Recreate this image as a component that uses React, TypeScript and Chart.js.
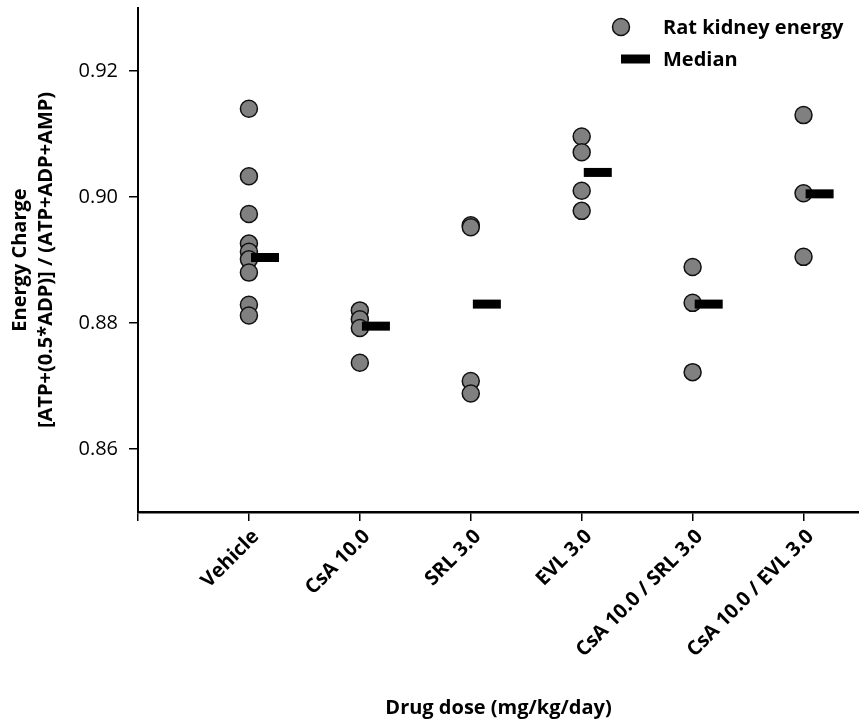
import React, { useEffect, useRef } from 'react';
import { Chart, registerables } from 'chart.js';

Chart.register(...registerables);

const CATEGORIES = [
  'Vehicle',
  'CsA 10.0',
  'SRL 3.0',
  'EVL 3.0',
  'CsA 10.0 / SRL 3.0',
  'CsA 10.0 / EVL 3.0',
];

const VEHICLE = [0.914, 0.9033, 0.8973, 0.8926, 0.8913, 0.8901, 0.888, 0.8829, 0.8812];
const CSA_10 = [0.882, 0.8806, 0.8792, 0.8737];
const SRL_3 = [0.8955, 0.8952, 0.8708, 0.8688];
const EVL_3 = [0.9096, 0.9071, 0.901, 0.8978];
const CSA_SRL = [0.8889, 0.8832, 0.8722];
const CSA_EVL = [0.913, 0.9006, 0.8905];
const GROUPS = [VEHICLE, CSA_10, SRL_3, EVL_3, CSA_SRL, CSA_EVL];

const MEDIANS = [0.8904, 0.8795, 0.883, 0.9039, 0.883, 0.9005];

const Y_TICKS = [0.86, 0.88, 0.9, 0.92];
const X_TICKS = [0, 1, 2, 3, 4, 5, 6];

const MEDIAN_OFFSET = 0.145;
const FONT = "'Open Sans', sans-serif";
const TEXT = '#000';

const legendPlugin = {
  id: 'customLegend',
  afterDraw(chart: any) {
    const { ctx, chartArea } = chart;
    const pts = chart.data.datasets[0];
    const med = chart.data.datasets[1];
    const r = chartArea.right;
    const t = chartArea.top;
    ctx.save();
    ctx.beginPath();
    ctx.arc(r - 238, t + 19, 8.5, 0, Math.PI * 2);
    ctx.fillStyle = pts.backgroundColor;
    ctx.fill();
    ctx.lineWidth = pts.borderWidth;
    ctx.strokeStyle = pts.borderColor;
    ctx.stroke();
    ctx.beginPath();
    ctx.moveTo(r - 238, t + 51);
    ctx.lineTo(r - 209, t + 51);
    ctx.lineWidth = med.borderWidth;
    ctx.strokeStyle = med.borderColor;
    ctx.stroke();
    ctx.fillStyle = TEXT;
    ctx.font = `bold 20px ${FONT}`;
    ctx.textBaseline = 'middle';
    ctx.textAlign = 'left';
    ctx.fillText(pts.label, r - 196, t + 20);
    ctx.fillText(med.label, r - 196, t + 52);
    ctx.restore();
  },
};

export default function App() {
  const ref = useRef<HTMLCanvasElement | null>(null);

  useEffect(() => {
    if (!ref.current) return;
    const pointData: { x: number; y: number }[] = [];
    GROUPS.forEach((g, i) => g.forEach((v) => pointData.push({ x: i + 1, y: v })));
    const medianData = MEDIANS.map((v, i) => ({ x: i + 1 + MEDIAN_OFFSET, y: v }));

    const chart = new Chart(ref.current, {
      type: 'scatter',
      data: {
        datasets: [
          {
            label: 'Rat kidney energy',
            data: pointData,
            backgroundColor: '#808080',
            borderColor: '#111',
            borderWidth: 1.5,
            pointRadius: 8.5,
            pointHoverRadius: 8.5,
            order: 1,
          },
          {
            label: 'Median',
            data: medianData,
            pointStyle: 'line',
            borderColor: '#000',
            backgroundColor: '#000',
            borderWidth: 9,
            pointRadius: 14,
            pointHoverRadius: 14,
            order: 0,
          },
        ],
      },
      options: {
        animation: false,
        responsive: true,
        maintainAspectRatio: false,
        layout: { autoPadding: false, padding: { top: 8, left: 0, right: 0, bottom: 0 } },
        plugins: {
          legend: { display: false },
          tooltip: { enabled: false },
        },
        scales: {
          x: {
            type: 'linear',
            min: 0,
            max: 6.5,
            afterBuildTicks: (scale: any) => {
              scale.ticks = X_TICKS.map((v) => ({ value: v }));
            },
            afterFit: (scale: any) => {
              scale.height = 210;
              scale.paddingLeft = 0;
              scale.paddingRight = 0;
            },
            ticks: {
              autoSkip: false,
              maxRotation: 45,
              minRotation: 45,
              padding: 4,
              labelOffset: 7,
              color: TEXT,
              font: { family: FONT, size: 20, weight: 'bold' },
              callback: (v: any) => (v >= 1 ? CATEGORIES[v - 1] : ''),
            },
            grid: {
              display: true,
              drawOnChartArea: false,
              drawTicks: true,
              tickLength: 9,
              color: '#000',
              lineWidth: 1.5,
            },
            border: { display: true, color: '#000', width: 2.5 },
            title: {
              display: true,
              text: 'Drug dose (mg/kg/day)',
              color: TEXT,
              font: { family: FONT, size: 20, weight: 'bold' },
              padding: { top: 0, bottom: 2 },
            },
          },
          y: {
            type: 'linear',
            min: 0.85,
            max: 0.93,
            afterBuildTicks: (scale: any) => {
              scale.ticks = Y_TICKS.map((v) => ({ value: v }));
            },
            afterFit: (scale: any) => {
              scale.width = 138;
              scale.paddingTop = 0;
              scale.paddingBottom = 0;
            },
            ticks: {
              padding: 11,
              color: TEXT,
              font: { family: FONT, size: 20 },
              callback: (v: any) => Number(v).toFixed(2),
            },
            grid: {
              display: true,
              drawOnChartArea: false,
              drawTicks: true,
              tickLength: 9,
              color: '#000',
              lineWidth: 1.5,
            },
            border: { display: true, color: '#000', width: 2 },
            title: {
              display: true,
              text: ['Energy Charge', '[ATP+(0.5*ADP)] / (ATP+ADP+AMP)'],
              color: TEXT,
              font: { family: FONT, size: 20, weight: 'bold', lineHeight: 1.3 },
              padding: { top: 7, bottom: 0 },
            },
          },
        },
      },
      plugins: [legendPlugin],
    });
    return () => chart.destroy();
  }, []);

  return (
    <div style={{ position: 'fixed', left: 0, top: 0, width: 859, height: 722, background: '#fff' }}>
      <canvas ref={ref} />
    </div>
  );
}
